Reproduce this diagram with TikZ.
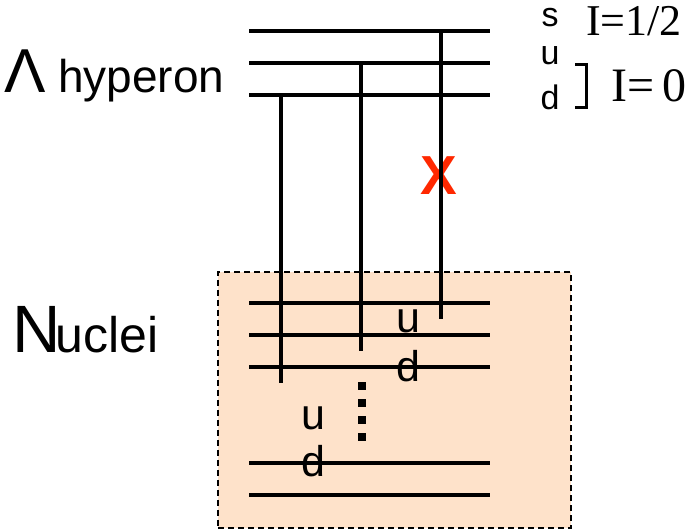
\documentclass[tikz,border=0pt]{standalone}
\usepackage{fontspec}
\setmainfont{Liberation Serif}
\setsansfont{Liberation Sans}
\definecolor{boxfill}{RGB}{254,226,202}
\definecolor{xred}{RGB}{255,40,0}
\tikzset{
  level/.style={line width=4pt},
  quark/.style={line width=4pt},
  lab/.style={inner sep=0pt, font=\sffamily},
}
\begin{document}
\begin{tikzpicture}[x=1pt,y=-1pt]
\useasboundingbox (0,0) rectangle (697,529);
% nucleus box
\node[draw, dash pattern=on 6pt off 4pt, line width=1.6pt, fill=boxfill, minimum width=353pt, minimum height=256pt, inner sep=0pt, anchor=north west] (box) at (217,271) {};
% Lambda levels
\coordinate (sL) at (249,31); \coordinate (sR) at (490,31);
\coordinate (uL) at (249,63); \coordinate (uR) at (490,63);
\coordinate (dL) at (249,95); \coordinate (dR) at (490,95);
\draw[level] (sL) -- (sR);
\draw[level] (uL) -- (uR);
\draw[level] (dL) -- (dR);
% nuclei levels
\foreach \n/\y in {n1/303,n2/335,n3/367,n4/463,n5/495}{
  \coordinate (\n L) at (249,\y); \coordinate (\n R) at (490,\y);
  \draw[level] (\n L) -- (\n R);
}
% red X
\node[inner sep=0pt, text=xred, font=\sffamily\bfseries\fontsize{55}{55}\selectfont] (x) at (438.5,176) {X};
% vertical connectors
\coordinate (v1t) at (281,95);  \coordinate (v1b) at (281,383);
\coordinate (v2t) at (361,63);  \coordinate (v2b) at (361,351);
\coordinate (v3t) at (441,31);  \coordinate (v3b) at (441,319);
\draw[quark] (v1t) -- (v1b);
\draw[quark] (v2t) -- (v2b);
\draw[quark] (v3t) -- (v3b);
% dots
\foreach \y [count=\i] in {386,403,420,437}{
  \node[fill=black, minimum size=8pt, inner sep=0pt] (dot\i) at (361.5,\y) {};
}
% labels left
\node[lab, anchor=base west, font=\sffamily\fontsize{62}{62}\selectfont] (lam) at (4,93) {Λ};
\node[lab, anchor=base west, font=\sffamily\fontsize{46}{46}\selectfont] (hyp) at (58,93) {hyperon};
\node[lab, anchor=base west] (nuc) at (12,353) {\fontsize{67}{67}\selectfont N\kern-5pt\fontsize{50}{50}\selectfont uclei};
% quark labels top right
\node[lab, anchor=base, font=\sffamily\fontsize{34}{34}\selectfont] (s) at (550,27) {s};
\node[lab, anchor=base, font=\sffamily\fontsize{34}{34}\selectfont] (u) at (550,65) {u};
\node[lab, anchor=base, font=\sffamily\fontsize{34}{34}\selectfont] (d) at (550,110) {d};
\node[inner sep=0pt, anchor=base west, font=\rmfamily\fontsize{44}{44}\selectfont] (i12) at (586,36) {I=1/2};
\node[inner sep=0pt, anchor=base west, font=\rmfamily\fontsize{48}{48}\selectfont] (i0) at (611,102) {I=\kern0.18em 0};
% bracket
\coordinate (b1) at (575,65); \coordinate (b2) at (586,65);
\coordinate (b3) at (586,108); \coordinate (b4) at (575,108);
\draw[line width=3pt, line cap=butt] (b1) -- (b2) -- (b3) -- (b4);
% quark labels in nucleus
\node[lab, anchor=base west, font=\sffamily\fontsize{43}{43}\selectfont] (nu1) at (396,333) {u};
\node[lab, anchor=base west, font=\sffamily\fontsize{43}{43}\selectfont] (nd1) at (396,382) {d};
\node[lab, anchor=base west, font=\sffamily\fontsize{43}{43}\selectfont] (nu2) at (301,430) {u};
\node[lab, anchor=base west, font=\sffamily\fontsize{43}{43}\selectfont] (nd2) at (301,477) {d};
\end{tikzpicture}
\end{document}
